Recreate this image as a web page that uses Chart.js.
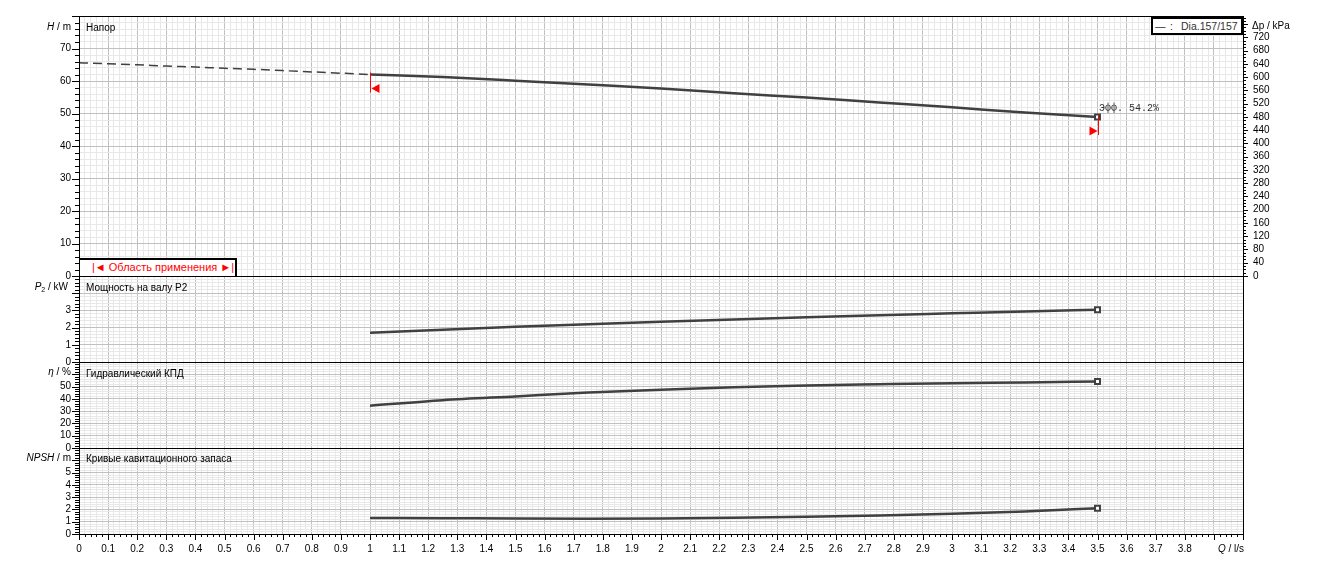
<!DOCTYPE html>
<html>
<head>
<meta charset="utf-8">
<script src="https://cdn.jsdelivr.net/npm/chart.js@4.4.1/dist/chart.umd.min.js"></script>
<style>
  body { margin: 0; background: #fff; font-family: "Liberation Sans", Arial, sans-serif; }
  #wrap { position: relative; width: 1323px; height: 571px; overflow: hidden; }
  canvas { position: absolute; left: 0; }
  .t { position: absolute; font-size: 10px; line-height: 1; color: #000; white-space: nowrap; z-index: 3; }
  .r { text-align: right; }
  .legend {
    position: absolute; left: 1151px; top: 17px; width: 92px; height: 18px; box-sizing: border-box;
    border: 2px solid #000; background: #fff; font-size: 10.5px; line-height: 14px; color: #333;
    white-space: nowrap; z-index: 3;
  }
  .legend span { position: absolute; top: 0; }
  .range {
    position: absolute; left: 80px; top: 258px; width: 157px; height: 18px; box-sizing: border-box;
    border-top: 2px solid #000; border-right: 2px solid #000; background: #fff;
    color: #f00; font-size: 11px; line-height: 15px; padding-left: 12px; white-space: nowrap; z-index: 3;
  }
  .eff { position: absolute; left: 1099px; top: 103px; font: 10px "Liberation Mono", "DejaVu Sans Mono", monospace; color: #333; z-index: 3; }
</style>
</head>
<body>
<div id="wrap">
  <canvas id="cH"></canvas>
  <canvas id="cP"></canvas>
  <canvas id="cEta"></canvas>
  <canvas id="cNpsh"></canvas>

  <div class="t r" style="left:20px;width:51px;top:22px;"><i>H</i> / m</div>
  <div class="t" style="left:86px;top:23px;">Напор</div>
  <div class="t" style="left:1252px;top:21px;">Δp / kPa</div>
  <div class="legend"><span style="left:2px;">—</span><span style="left:17px;">:</span><span style="left:28px;">Dia.157/157</span></div>
  <div class="eff">Эфф. 54.2%</div>
  <div class="range">|◄ Область применения ►|</div>

  <div class="t r" style="left:20px;width:48px;top:282px;"><i>P</i><sub style="font-size:7px;vertical-align:-2px;">2</sub> / kW</div>
  <div class="t" style="left:86px;top:283px;">Мощность на валу P2</div>

  <div class="t r" style="left:20px;width:51px;top:367px;"><i>η</i> / %</div>
  <div class="t" style="left:86px;top:369px;">Гидравлический КПД</div>

  <div class="t r" style="left:10px;width:61px;top:453px;"><i>NPSH</i> / m</div>
  <div class="t" style="left:86px;top:454px;">Кривые кавитационного запаса</div>

  <div class="t r" style="left:1200px;width:44px;top:544px;"><i>Q</i> / l/s</div>
</div>

<script>
// flow values (l/s)
const Q_LOW = [0, 0.1, 0.2, 0.3, 0.4, 0.5, 0.6, 0.7, 0.8, 0.9, 1.0];
const Q_PTS = [1.0, 1.25, 1.5, 1.75, 2.0, 2.25, 2.5, 2.75, 3.0, 3.25, 3.5];

// head outside the operating range (dashed) and inside it
const H_LOW = [65.6, 65.3, 65.0, 64.6, 64.3, 63.9, 63.6, 63.2, 62.8, 62.4, 62.0];
const H_PTS = [62.0, 61.2, 60.1, 58.9, 57.7, 56.2, 54.9, 53.4, 51.9, 50.3, 48.9];
// shaft power P2, kW
const P2_PTS = [1.70, 1.88, 2.05, 2.20, 2.34, 2.47, 2.60, 2.72, 2.83, 2.94, 3.04];
// hydraulic efficiency, %
const ETA_PTS = [34.4, 38.9, 42.0, 45.1, 47.5, 49.4, 50.9, 51.9, 52.8, 53.4, 54.2];
// NPSH, m
const NPSH_PTS = [1.31, 1.29, 1.26, 1.25, 1.27, 1.32, 1.40, 1.51, 1.65, 1.84, 2.10];

const OP_RANGE = [1.0, 3.5];

// tick labels
const Q_LABELS = [0, 0.1, 0.2, 0.3, 0.4, 0.5, 0.6, 0.7, 0.8, 0.9, 1, 1.1, 1.2, 1.3, 1.4, 1.5, 1.6, 1.7, 1.8, 1.9,
                  2, 2.1, 2.2, 2.3, 2.4, 2.5, 2.6, 2.7, 2.8, 2.9, 3, 3.1, 3.2, 3.3, 3.4, 3.5, 3.6, 3.7, 3.8];
const H_LABELS = [0, 10, 20, 30, 40, 50, 60, 70];
const DP_LABELS = [0, 40, 80, 120, 160, 200, 240, 280, 320, 360, 400, 440, 480, 520, 560, 600, 640, 680, 720];
const P2_LABELS = [0, 1, 2, 3];
const ETA_LABELS = [0, 10, 20, 30, 40, 50];
const NPSH_LABELS = [0, 1, 2, 3, 4, 5];

const W = 1323;
const AXIS_W = 79;
const RIGHT_W = 80;
const PAD = 16;          // room above/below each plot for labels that overhang
const MAJ = '#c0c0c0';
const MIN = '#e8e8e8';
const LINE = '#404040';

Chart.defaults.font.family = "'Liberation Sans', Arial, sans-serif";
Chart.defaults.font.size = 10;
Chart.defaults.color = '#000';

const near = (a, b) => Math.abs(a - b) < 1e-6;
const isMajor = (v, step) => Math.abs(v / step - Math.round(v / step)) < 1e-6;
const pts = (xs, ys) => xs.map((x, i) => ({ x: x, y: ys[i] }));

// major step per scale, used for long/short tick marks
const MARKS = {};

const framePlugin = {
  id: 'frame',
  afterDraw(chart) {
    const a = chart.chartArea, c = chart.ctx;
    c.save();
    c.strokeStyle = '#000';
    c.lineWidth = 1;
    c.strokeRect(Math.round(a.left) + 0.5, Math.round(a.top) + 0.5,
                 Math.round(a.right - a.left), Math.round(a.bottom - a.top));
    c.restore();
  }
};

const marksPlugin = {
  id: 'marks',
  afterDraw(chart) {
    const spec = MARKS[chart.canvas.id] || {};
    const c = chart.ctx;
    c.save();
    c.strokeStyle = '#000';
    c.lineWidth = 1;
    for (const id in spec) {
      const s = chart.scales[id];
      if (!s) continue;
      for (const t of s.ticks) {
        const big = isMajor(t.value, spec[id]);
        const p = Math.round(s.getPixelForValue(t.value)) + 0.5;
        c.beginPath();
        if (s.position === 'left') {
          const len = big ? 7 : 4;
          c.moveTo(s.right - len, p); c.lineTo(s.right, p);
        } else if (s.position === 'right') {
          const len = big ? 5 : 3;
          c.moveTo(s.left, p); c.lineTo(s.left + len, p);
        } else {
          const len = big ? 6 : 3;
          c.moveTo(p, s.top); c.lineTo(p, s.top + len);
        }
        c.stroke();
      }
    }
    c.restore();
  }
};

// red operating range markers on the head curve
const opPlugin = {
  id: 'op',
  afterDatasetsDraw(chart) {
    const x = chart.scales.x, y = chart.scales.y, c = chart.ctx;
    const ends = [[OP_RANGE[0], H_PTS[0], 1], [OP_RANGE[1], H_PTS[H_PTS.length - 1], -1]];
    c.save();
    c.strokeStyle = '#f00';
    c.fillStyle = '#f00';
    c.lineWidth = 1;
    for (const [q, h, dir] of ends) {
      const px = Math.round(x.getPixelForValue(q)) + 0.5;
      const py = y.getPixelForValue(h);
      c.beginPath();
      c.moveTo(px, py - 2);
      c.lineTo(px, py + 18);
      c.stroke();
      const cy = py + 14;
      c.beginPath();
      c.moveTo(px + dir * 1, cy);
      c.lineTo(px + dir * 9, cy - 4.5);
      c.lineTo(px + dir * 9, cy + 4.5);
      c.closePath();
      c.fill();
    }
    c.restore();
  }
};

function curve(data, dashed) {
  const n = data.length;
  return {
    data: data,
    borderColor: LINE,
    borderWidth: dashed ? 1.5 : 2.5,
    borderDash: dashed ? [9, 5] : [],
    tension: 0.3,
    cubicInterpolationMode: 'monotone',
    pointStyle: 'rect',
    pointRadius: dashed ? 0 : (c => c.dataIndex === n - 1 ? 3.5 : 0),
    pointBackgroundColor: '#fff',
    pointBorderColor: LINE,
    pointBorderWidth: 2
  };
}

// p.top / p.bottomPx: wanted plot area edges on the page
function panel(id, p) {
  const cv = document.getElementById(id);
  const padTop = Math.min(PAD, p.top);
  const canvasTop = p.top - padTop;
  const xAxisH = p.bottom ? 37 : 0;
  const canvasH = p.bottom ? (p.bottomPx + xAxisH - canvasTop) : (p.bottomPx + PAD - canvasTop);
  cv.width = W;
  cv.height = canvasH;
  cv.style.top = canvasTop + 'px';

  const scales = {
    x: {
      type: 'linear', min: 0, max: 4,
      ticks: {
        stepSize: 0.02, autoSkip: false, maxRotation: 0, minRotation: 0,
        display: !!p.bottom, padding: 9,
        callback: v => Q_LABELS.some(q => near(q, v)) ? String(Number(v.toFixed(1))) : ''
      },
      grid: { drawTicks: false, color: c => isMajor(c.tick.value, 0.1) ? MAJ : MIN },
      border: { color: '#000' },
      afterFit: s => { s.height = xAxisH; }
    },
    y: {
      type: 'linear', position: 'left', min: 0, max: p.max,
      ticks: {
        stepSize: p.minor, autoSkip: false, padding: 8,
        callback: v => p.labels.some(l => near(l, v)) ? String(Math.round(v)) : ''
      },
      grid: { drawTicks: false, color: c => isMajor(c.tick.value, p.major) ? MAJ : MIN },
      border: { color: '#000' },
      afterFit: s => { s.width = AXIS_W; }
    }
  };
  MARKS[id] = { y: p.major };
  if (p.bottom) MARKS[id].x = 0.1;

  if (p.kpa) {
    scales.yp = {
      type: 'linear', position: 'right', min: 0, max: p.max * 9.80665,
      ticks: {
        stepSize: 10, autoSkip: false, padding: 10, includeBounds: false,
        callback: v => DP_LABELS.includes(v) ? String(v) : ''
      },
      grid: { drawTicks: false, drawOnChartArea: false },
      border: { color: '#000' },
      afterFit: s => { s.width = RIGHT_W; }
    };
    MARKS[id].yp = 40;
  }

  const plugins = [framePlugin, marksPlugin];
  if (p.op) plugins.push(opPlugin);

  return new Chart(cv, {
    type: 'line',
    data: { datasets: p.datasets },
    options: {
      responsive: false,
      animation: false,
      devicePixelRatio: 1,
      events: [],
      layout: { padding: { top: padTop, bottom: p.bottom ? 0 : PAD, left: 0, right: p.kpa ? 0 : RIGHT_W } },
      plugins: { legend: { display: false }, tooltip: { enabled: false } },
      scales: scales
    },
    plugins: plugins
  });
}

panel('cH', {
  top: 16, bottomPx: 276, max: 80, major: 10, minor: 2, labels: H_LABELS, kpa: true, op: true,
  datasets: [curve(pts(Q_LOW, H_LOW), true), curve(pts(Q_PTS, H_PTS), false)]
});
panel('cP', {
  top: 276, bottomPx: 362, max: 5, major: 1, minor: 0.2, labels: P2_LABELS,
  datasets: [curve(pts(Q_PTS, P2_PTS), false)]
});
panel('cEta', {
  top: 362, bottomPx: 448, max: 70, major: 10, minor: 2, labels: ETA_LABELS,
  datasets: [curve(pts(Q_PTS, ETA_PTS), false)]
});
panel('cNpsh', {
  top: 448, bottomPx: 534, max: 7, major: 1, minor: 0.2, labels: NPSH_LABELS, bottom: true,
  datasets: [curve(pts(Q_PTS, NPSH_PTS), false)]
});
</script>
</body>
</html>
